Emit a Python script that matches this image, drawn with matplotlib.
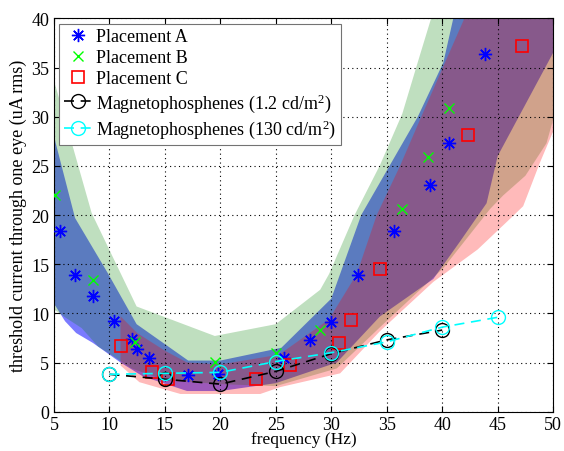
import matplotlib
matplotlib.use('Agg')
import matplotlib.pyplot as plt
import numpy as np

plt.rcParams['font.family'] = ['Liberation Serif', 'DejaVu Serif']
plt.rcParams['mathtext.fontset'] = 'custom'
plt.rcParams['mathtext.rm'] = 'Liberation Serif'
plt.rcParams['mathtext.it'] = 'Liberation Serif:italic'
plt.rcParams['font.size'] = 13

# measured thresholds for the three electrode placements
freq_a = [5.5, 6.9, 8.5, 10.4, 12.0, 12.5, 13.6, 17.1, 19.8, 25.7, 28.1, 30.0, 32.4, 35.7, 38.9, 40.6, 43.9]
thr_a = [18.4, 13.9, 11.8, 9.2, 7.4, 6.4, 5.5, 3.7, 3.8, 5.5, 7.3, 9.1, 13.9, 18.4, 23.1, 27.3, 36.4]

freq_b = [5.1, 8.5, 12.3, 19.5, 25.0, 29.0, 36.4, 38.7, 40.6]
thr_b = [22.0, 13.4, 7.1, 5.1, 6.0, 8.3, 20.6, 25.9, 30.9]

freq_c = [11.0, 13.8, 15.3, 23.2, 26.3, 30.7, 31.8, 34.4, 42.3, 47.2]
thr_c = [6.7, 4.0, 3.3, 3.3, 4.7, 7.0, 9.3, 14.5, 28.1, 37.2]

# magnetophosphene thresholds at two background luminances
freq_m1 = [10, 15, 20, 25, 30, 35, 40]
thr_m1 = [3.8, 3.3, 2.8, 4.1, 5.9, 7.3, 8.3]
freq_m2 = [10, 15, 20, 25, 30, 35, 40, 45]
thr_m2 = [3.8, 3.9, 4.0, 5.1, 6.0, 7.1, 8.6, 9.6]

# spread of each placement (upper and lower edges)
band_a_up_x = [5, 6.9, 9.9, 12.45, 17.1, 20, 25.5, 30.0, 32.7, 35.3, 37.8, 40.1, 41.0, 50]
band_a_up_y = [28.0, 19.7, 14.0, 8.9, 5.2, 5.2, 6.5, 11.5, 20.0, 25.1, 30.0, 35.5, 40.0, 45]
band_a_lo_x = [5, 6, 7, 8.5, 11, 13, 17, 20, 25, 30.5, 34.4, 39.2, 41.6, 44, 45, 50]
band_a_lo_y = [11.0, 9.2, 8.0, 7.0, 5.0, 3.6, 2.1, 2.1, 2.9, 5.0, 9.7, 13.5, 17.3, 21.2, 26.0, 36.5]

band_b_up_x = [5, 8.4, 12.45, 19.5, 25.0, 29.0, 29.8, 32.1, 34.4, 36.4, 38.0, 39.0, 50]
band_b_up_y = [33.7, 20.2, 10.7, 7.7, 8.9, 12.4, 14.0, 20.0, 25.1, 30.3, 36.3, 40.0, 60]
band_b_lo_x = [5, 6, 7.5, 9, 10, 12, 15, 20, 25, 30.5, 34.4, 40.1, 44.3, 45.5, 47.5, 49.4, 50]
band_b_lo_y = [10.4, 9.6, 8.5, 6.6, 5.9, 4.4, 3.2, 2.8, 2.6, 4.4, 8.6, 14.6, 20.6, 22.0, 24.0, 27.3, 29.7]

band_c_up_x = [11, 12.5, 15, 17, 20, 25.3, 29.8, 32.3, 34.1, 36.2, 38.0, 42.0, 50]
band_c_up_y = [9.7, 8.0, 6.2, 5.0, 4.8, 5.8, 9.4, 14.0, 20.0, 25.0, 29.7, 40.0, 60]
band_c_lo_x = [11, 12.7, 16.4, 23.6, 25.4, 30.8, 34.4, 39.2, 43.2, 46.1, 47.3, 48.8, 50]
band_c_lo_y = [4.7, 3.0, 1.8, 1.8, 2.5, 3.9, 8.2, 13.2, 16.5, 19.6, 20.9, 25.3, 28.5]


def band(ax, up_x, up_y, lo_x, lo_y, color, alpha):
    xs = list(up_x) + list(lo_x)[::-1]
    ys = list(up_y) + list(lo_y)[::-1]
    ax.fill(xs, ys, color=color, alpha=alpha, linewidth=0, zorder=1)


fig = plt.figure(figsize=(5.64, 4.52), dpi=100)
ax = fig.add_axes([0.0957, 0.087, 0.885, 0.870])

band(ax, band_a_up_x, band_a_up_y, band_a_lo_x, band_a_lo_y, '#0000ff', 0.52)
band(ax, band_b_up_x, band_b_up_y, band_b_lo_x, band_b_lo_y, '#008000', 0.25)
band(ax, band_c_up_x, band_c_up_y, band_c_lo_x, band_c_lo_y, '#ff0000', 0.27)

ax.plot(freq_a, thr_a, linestyle='none', marker=(8, 2, 0), markersize=9.5,
        color='#0000ff', markeredgewidth=1.0, label='Placement A', zorder=4)
ax.plot(freq_b, thr_b, linestyle='none', marker='x', markersize=7,
        color='#00ff00', markeredgewidth=1.0, label='Placement B', zorder=4)
ax.plot(freq_c, thr_c, linestyle='none', marker='s', markersize=8.5,
        markerfacecolor='none', markeredgecolor='#ff0000', markeredgewidth=1.2,
        label='Placement C', zorder=4)
ax.plot(freq_m1, thr_m1, linestyle=(0, (6, 4)), linewidth=1.2, color='k',
        marker='o', markersize=10, markerfacecolor='none', markeredgewidth=1.0,
        label='Magnetophosphenes (1.2 cd/m$^2$)', zorder=5)
ax.plot(freq_m2, thr_m2, linestyle=(0, (6, 4)), linewidth=1.2, color='#00ffff',
        marker='o', markersize=10, markerfacecolor='none', markeredgewidth=1.0,
        label='Magnetophosphenes (130 cd/m$^2$)', zorder=6)

ax.set_xlim(5, 50)
ax.set_ylim(0, 40)
ax.set_xticks(np.arange(5, 51, 5))
ax.set_yticks(np.arange(0, 41, 5))
ax.set_axisbelow(False)
ax.grid(True, linestyle=(0, (1, 3)), color='k', linewidth=0.8)
ax.tick_params(direction='in', top=True, right=True, length=4, labelsize=13)
ax.tick_params(axis='x', pad=3)
for s in ax.spines.values():
    s.set_linewidth(0.8)

ax.set_xlabel('frequency (Hz)', fontsize=12.5, labelpad=-1)
ax.set_ylabel('threshold current through one eye (uA rms)', fontsize=13, labelpad=3)

leg = ax.legend(loc='upper left', bbox_to_anchor=(0.0106, 0.987), borderaxespad=0,
                fancybox=False, framealpha=1, edgecolor='0.45', fontsize=13,
                handlelength=1.6, handletextpad=0.2, labelspacing=0.22, borderpad=0.25)
leg.get_frame().set_linewidth(0.8)

fig.savefig('out.png', dpi=100)
